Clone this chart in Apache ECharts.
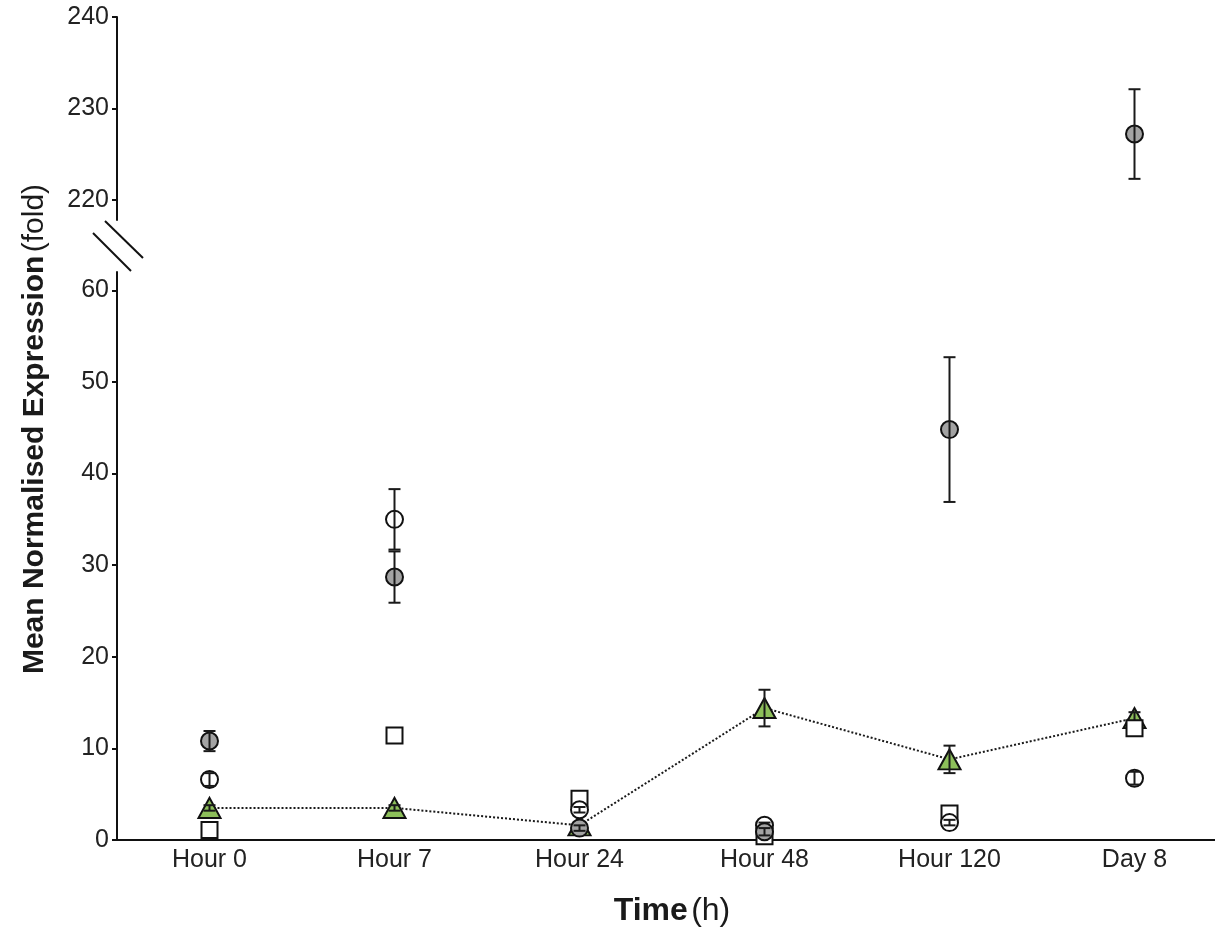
<!DOCTYPE html>
<html>
<head>
<meta charset="utf-8">
<script src="https://cdn.jsdelivr.net/npm/echarts@6/dist/echarts.min.js"></script>
<style>html,body{margin:0;padding:0;background:#fff;}#c{width:1215px;height:933px;}</style>
</head>
<body>
<div id="c"></div>
<script>
const categories = ['Hour 0', 'Hour 7', 'Hour 24', 'Hour 48', 'Hour 120', 'Day 8'];
// mean values and error (±)
const grayMean   = [10.8, 28.7, 1.3, 0.9, 44.8, 227.2];
const grayErr    = [1.1, 2.8, 0.3, 0.4, 7.9, 4.9];
const openMean   = [6.6, 35.0, 3.3, 1.6, 1.9, 6.75];
const openErr    = [0.7, 3.3, 0.3, 0.3, 0.3, 0.7];
const squareMean = [1.1, 11.4, 4.5, 0.4, 2.9, 12.2];
const greenMean  = [3.5, 3.5, 1.6, 14.4, 8.8, 13.3];
const greenErr   = [0.3, 0.3, 0.3, 2.0, 1.5, 0.65];
const lowerTicks = [0, 10, 20, 30, 40, 50, 60];
const upperTicks = [220, 230, 240];

const BREAK = 100;
const FONT = '"Liberation Sans", Arial, sans-serif';
const lowPart = arr => arr.map(v => v < BREAK ? v : null);
const highPart = arr => arr.map(v => v >= BREAK ? v : null);

function errData(mean, err, keepHigh) {
  return mean.map((m, i) => [i, m, err[i]]).filter(d => keepHigh ? d[1] >= BREAK : d[1] < BREAK);
}
function errSeries(mean, err, high, z) {
  return {
    type: 'custom',
    xAxisIndex: high ? 1 : 0, yAxisIndex: high ? 1 : 0,
    z: z, silent: true, clip: false,
    data: errData(mean, err, high),
    renderItem: function (params, api) {
      const x = api.value(0), m = api.value(1), e = api.value(2);
      const top = api.coord([x, m + e]);
      const bot = api.coord([x, m - e]);
      const hw = 6;
      const st = { stroke: '#1a1a1a', lineWidth: 2 };
      return { type: 'group', children: [
        { type: 'line', shape: { x1: top[0], y1: top[1], x2: bot[0], y2: bot[1] }, style: st },
        { type: 'line', shape: { x1: top[0]-hw, y1: top[1], x2: top[0]+hw, y2: top[1] }, style: st },
        { type: 'line', shape: { x1: bot[0]-hw, y1: bot[1], x2: bot[0]+hw, y2: bot[1] }, style: st }
      ]};
    }
  };
}
function scatter(name, data, high, symbol, size, color, z) {
  return {
    name: name, type: 'scatter',
    xAxisIndex: high ? 1 : 0, yAxisIndex: high ? 1 : 0,
    data: data, symbol: symbol, symbolSize: size, z: z,
    itemStyle: { color: color, borderColor: '#111', borderWidth: 2, opacity: 1 },
    emphasis: { disabled: true }
  };
}

const axisLabelStyle = { color: '#222', fontSize: 25, fontFamily: FONT };
const lineStyle = { color: '#111', width: 2 };

const chart = echarts.init(document.getElementById('c'), null, { renderer: 'canvas' });
chart.setOption({
  animation: false,
  backgroundColor: '#fff',
  grid: [
    { left: 117, width: 1110, top: 272, bottom: 93, outerBoundsMode: 'none', containLabel: false },
    { left: 117, width: 1110, top: 17, height: 203, outerBoundsMode: 'none', containLabel: false }
  ],
  xAxis: [
    {
      type: 'category', gridIndex: 0, data: categories, boundaryGap: true,
      axisLine: { lineStyle: lineStyle },
      axisTick: { alignWithLabel: true, length: 5, lineStyle: lineStyle },
      axisLabel: Object.assign({ margin: 8 }, axisLabelStyle),
      splitLine: { show: false },
      name: '{b|Time} {n|(h)}', nameLocation: 'middle', nameGap: 55,
      nameTextStyle: { rich: {
        b: { fontSize: 32, fontWeight: 'bold', color: '#1a1a1a', fontFamily: FONT },
        n: { fontSize: 32, color: '#1a1a1a', fontFamily: FONT }
      } }
    },
    {
      type: 'category', gridIndex: 1, data: categories, boundaryGap: true, show: false
    }
  ],
  yAxis: [
    {
      type: 'value', gridIndex: 0, min: 0, max: 62, interval: 10,
      axisLine: { show: true, lineStyle: lineStyle },
      axisTick: { show: true, length: 5, lineStyle: lineStyle, customValues: lowerTicks },
      axisLabel: Object.assign({ margin: 8, customValues: lowerTicks }, axisLabelStyle),
      splitLine: { show: false }
    },
    {
      type: 'value', gridIndex: 1, min: 217.8, max: 240, interval: 10,
      axisLine: { show: true, lineStyle: lineStyle },
      axisTick: { show: true, length: 5, lineStyle: lineStyle, customValues: upperTicks },
      axisLabel: Object.assign({ margin: 8, customValues: upperTicks }, axisLabelStyle),
      splitLine: { show: false }
    }
  ],
  graphic: [
    { type: 'line', shape: { x1: 93, y1: 233, x2: 131, y2: 271 }, style: { stroke: '#111', lineWidth: 2 } },
    { type: 'line', shape: { x1: 105, y1: 221, x2: 143, y2: 258 }, style: { stroke: '#111', lineWidth: 2 } },
    {
      type: 'text', x: 35, y: 429, rotation: Math.PI / 2,
      style: {
        text: '{b|Mean Normalised Expression} {n|(fold)}',
        align: 'center', verticalAlign: 'middle',
        rich: {
          b: { fontSize: 30, fontWeight: 'bold', fill: '#1a1a1a', fontFamily: FONT },
          n: { fontSize: 30, fill: '#1a1a1a', fontFamily: FONT }
        }
      }
    }
  ],
  series: [
    {
      name: 'green line', type: 'line', xAxisIndex: 0, yAxisIndex: 0,
      data: greenMean, symbol: 'none', z: 2,
      lineStyle: { color: '#1a1a1a', width: 2, type: 'dotted' }
    },
    scatter('green', lowPart(greenMean), false, 'triangle', [22, 20], '#8dbf5a', 3),
    errSeries(greenMean, greenErr, false, 4),
    scatter('square', lowPart(squareMean), false, 'rect', 16, '#ffffff', 5),
    scatter('open', lowPart(openMean), false, 'circle', 17, '#ffffff', 7),
    errSeries(openMean, openErr, false, 8),
    scatter('gray', lowPart(grayMean), false, 'circle', 17, '#a3a3a3', 9),
    errSeries(grayMean, grayErr, false, 10),
    scatter('gray high', highPart(grayMean), true, 'circle', 17, '#a3a3a3', 9),
    errSeries(grayMean, grayErr, true, 10)
  ]
});
</script>
</body>
</html>
